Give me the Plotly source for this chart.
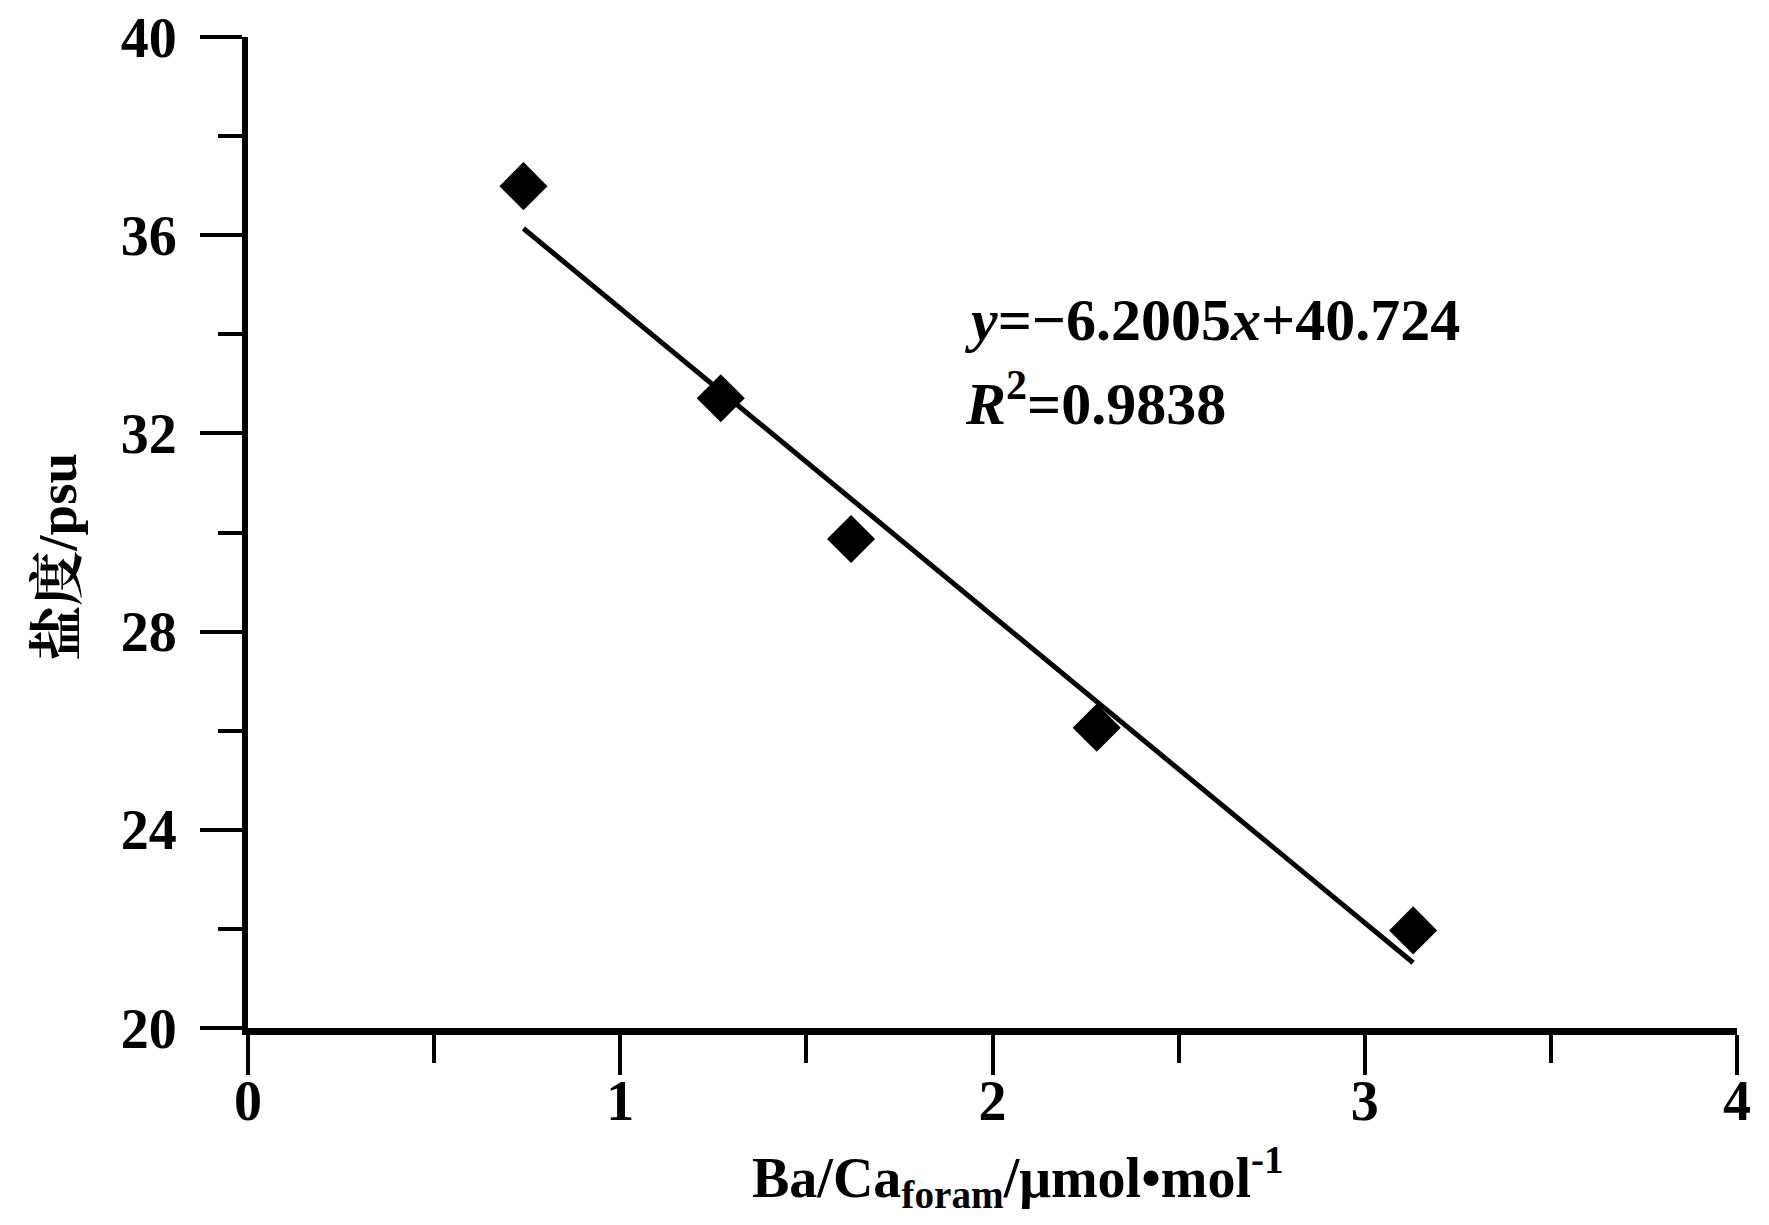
import plotly.graph_objects as go

# Ba/Ca (foram) vs salinity
ba_ca = [0.74, 1.27, 1.62, 2.28, 3.13]
salinity = [36.99, 32.71, 29.87, 26.06, 21.97]

slope = -6.2005
intercept = 40.724
r_squared = 0.9838

x_fit = [min(ba_ca), max(ba_ca)]
y_fit = [slope * x + intercept for x in x_fit]

TIMES = "Liberation Serif"
CJK = "Liberation Serif, Noto Serif CJK SC, Noto Sans CJK SC"

fig = go.Figure()
fig.add_trace(
    go.Scatter(
        x=x_fit,
        y=y_fit,
        mode="lines",
        line=dict(color="black", width=5),
        showlegend=False,
    )
)
fig.add_trace(
    go.Scatter(
        x=ba_ca,
        y=salinity,
        mode="markers",
        marker=dict(symbol="diamond", size=37, color="black"),
        showlegend=False,
    )
)

fig.update_xaxes(
    range=[0, 4],
    tickvals=[0, 1, 2, 3, 4],
    ticktext=[f"<b>{v}</b>" for v in [0, 1, 2, 3, 4]],
    ticks="outside",
    ticklen=40,
    tickwidth=4,
    tickcolor="black",
    ticklabelstandoff=-22,
    ticklabeloverflow="allow",
    automargin=False,
    minor=dict(dtick=0.5, ticks="outside", ticklen=28, tickwidth=4, tickcolor="black"),
    showline=True,
    linewidth=7,
    linecolor="black",
    showgrid=False,
    zeroline=False,
    tickfont=dict(family=TIMES, size=56, color="black"),
)
fig.update_yaxes(
    range=[20, 40],
    tickvals=[20, 24, 28, 32, 36, 40],
    ticktext=[f"<b>{v}</b>" for v in [20, 24, 28, 32, 36, 40]],
    ticks="outside",
    ticklen=42,
    tickwidth=4,
    tickcolor="black",
    ticklabelstandoff=12,
    ticklabeloverflow="allow",
    automargin=False,
    minor=dict(dtick=2, ticks="outside", ticklen=24, tickwidth=4, tickcolor="black"),
    showline=True,
    linewidth=6,
    linecolor="black",
    showgrid=False,
    zeroline=False,
    tickfont=dict(family=TIMES, size=56, color="black"),
)

# axis titles
fig.add_annotation(
    text="<b>Ba/Ca<sub>foram</sub>/μmol•mol<sup>-1</sup></b>",
    xref="paper",
    yref="paper",
    x=0.517,
    y=-0.15,
    xanchor="center",
    yanchor="middle",
    showarrow=False,
    font=dict(family=TIMES, size=56, color="black"),
)
fig.add_annotation(
    text="<b>盐度/psu</b>",
    xref="paper",
    yref="paper",
    x=-0.128,
    y=0.476,
    xanchor="center",
    yanchor="middle",
    textangle=-90,
    showarrow=False,
    font=dict(family=CJK, size=55, color="black"),
)

# fit equation
fig.add_annotation(
    text=f"<b><i>y</i>=−{abs(slope):.4f}<i>x</i>+{intercept:.3f}</b>",
    x=1.921,
    y=34.28,
    xanchor="left",
    yanchor="middle",
    showarrow=False,
    font=dict(family=TIMES, size=60, color="black"),
)
fig.add_annotation(
    text=f"<b><i>R</i><sup>2</sup>={r_squared:.4f}</b>",
    x=1.921,
    y=32.68,
    xanchor="left",
    yanchor="middle",
    showarrow=False,
    font=dict(family=TIMES, size=60, color="black"),
)

fig.update_layout(
    width=1761,
    height=1217,
    margin=dict(l=240, r=32, t=29, b=197),
    plot_bgcolor="white",
    paper_bgcolor="white",
)

fig.write_html("out.html")
